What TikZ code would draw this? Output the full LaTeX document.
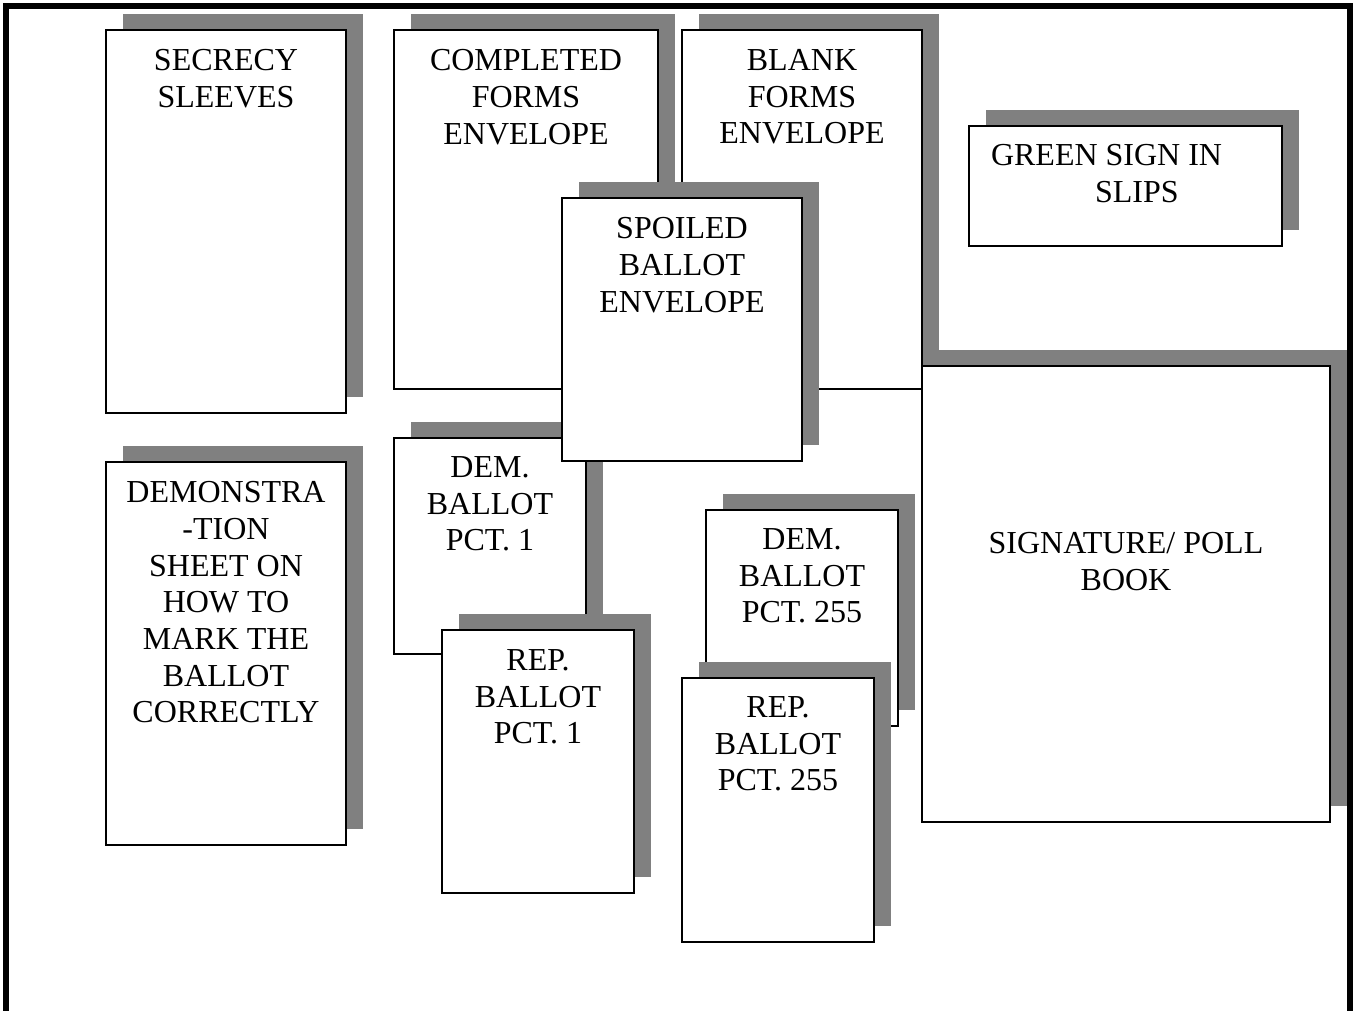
\documentclass[tikz,border=0pt]{standalone}
\usepackage{fontspec}
\setmainfont{Liberation Serif}
\usetikzlibrary{calc}
\definecolor{shadowgray}{RGB}{128,128,128}
\tikzset{
  shadowfill/.style={fill=shadowgray},
  card/.style={draw=black, fill=white, line width=1.5pt, rectangle, inner sep=0pt, outer sep=0pt},
  lbl/.style={font=\fontsize{24}{27.5}\selectfont, align=center, inner sep=0pt, outer sep=0pt},
}
% #6 = distance in px from the card's top to the top of the first line of capitals
\newcommand\papercard[7]{%
  \fill[shadowfill] ({#2+16.5},{#3-16.5}) rectangle ({#4+16.5},{#5-16.5});
  \node[card, minimum width={(#4-#2)*0.75pt}, minimum height={(#5-#3)*0.75pt}, anchor=north west] (#1) at (#2,#3) {};
  \node[lbl, anchor=north] (#1-t) at ($(#1.north)+(0,#6)$) {#7};
}
\begin{document}
\begin{tikzpicture}[x=0.75pt,y=-0.75pt]
\useasboundingbox (0,0) rectangle (1356,1010);
\fill[white] (0,0) rectangle (1356,1010);
% frame
\draw[line width=4.5pt, line join=miter] (6,1012) -- (6,6) -- (1349.5,6) -- (1349.5,1012);
% cards
\papercard{sec}{106}{30}{346}{413}{19.5}{SECRECY\\SLEEVES}
\papercard{comp}{394}{30}{658}{389}{19.5}{COMPLETED\\FORMS\\ENVELOPE}
\papercard{blank}{682}{30}{922}{389}{19.5}{BLANK\\FORMS\\ENVELOPE}
\papercard{dem1}{394}{438}{586}{654}{18.5}{DEM.\\BALLOT\\PCT. 1}
\papercard{spoil}{562}{198}{802}{461}{19.5}{SPOILED\\BALLOT\\ENVELOPE}
\papercard{rep1}{442}{630}{634}{893}{19.5}{REP.\\BALLOT\\PCT. 1}
% green sign in slips
\fill[shadowfill] (985.5,109.5) rectangle (1298.5,229.5);
\node[card, minimum width={313*0.75pt}, minimum height={120*0.75pt}, anchor=north west] (green) at (969,126) {};
\node[lbl, align=left, anchor=north west] (green-t) at ($(green.north west)+(22,18.5)$) {GREEN SIGN IN\\\hspace*{78pt}SLIPS};
% signature
\papercard{sig}{922}{366}{1330}{822}{166.5}{SIGNATURE/ POLL\\BOOK}
\papercard{demo}{106}{462}{346}{845}{19.5}{DEMONSTRA\\-TION\\SHEET ON\\HOW TO\\MARK THE\\BALLOT\\CORRECTLY}
\papercard{dem255}{706}{510}{898}{726}{18.5}{DEM.\\BALLOT\\PCT. 255}
\papercard{rep255}{682}{678}{874}{942}{18.5}{REP.\\BALLOT\\PCT. 255}
\end{tikzpicture}
\end{document}
